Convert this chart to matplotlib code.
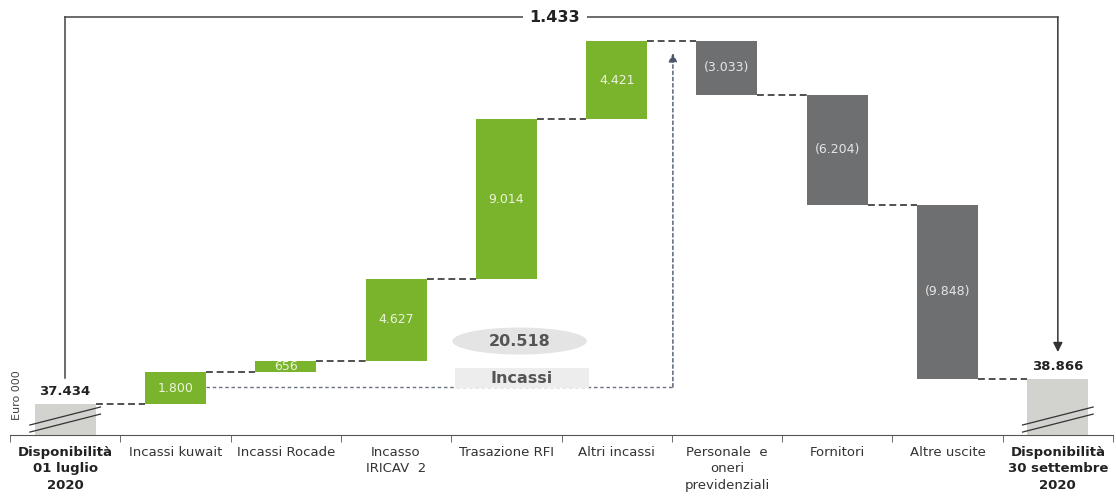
import numpy as np
import matplotlib.pyplot as plt
from matplotlib.patches import Ellipse, Rectangle

# data (Euro 000)
categories = ['Disponibilità\n01 luglio\n2020', 'Incassi kuwait', 'Incassi Rocade',
              'Incasso\nIRICAV  2', 'Trasazione RFI', 'Altri incassi',
              'Personale  e\noneri\nprevidenziali', 'Fornitori', 'Altre uscite',
              'Disponibilità\n30 settembre\n2020']
start_value = 37434
end_value = 38866
deltas = [1800, 656, 4627, 9014, 4421, -3033, -6204, -9848]
delta_labels = ['1.800', '656', '4.627', '9.014', '4.421', '(3.033)', '(6.204)', '(9.848)']
start_label = '37.434'
end_label = '38.866'
total_incassi = '20.518'
variation = '1.433'

green = '#7ab42c'
dgray = '#6e6f71'
lgray = '#d2d2cf'

base = 35700
top = 60276
w = 0.553

fig = plt.figure(figsize=(11.16, 4.97), dpi=100)
ax = fig.add_axes([10/1116, 62/497, 1103/1116, 435/497])
ax.set_xlim(-0.5, 9.5)
ax.set_ylim(base, top)

# start / end bars
ax.bar(0, start_value - base, bottom=base, width=w, color=lgray)
ax.bar(9, end_value - base, bottom=base, width=w, color=lgray)

running = start_value
levels = [start_value]
for i, d in enumerate(deltas):
    x = i + 1
    lo = min(running, running + d)
    col = green if d > 0 else dgray
    ax.bar(x, abs(d), bottom=lo, width=w, color=col)
    tcol = '#eef3dc' if d > 0 else '#e6e6e6'
    ax.text(x, lo + abs(d) / 2, delta_labels[i], ha='center', va='center',
            fontsize=9, color=tcol)
    running += d
    levels.append(running)

# connectors
for i in range(9):
    ax.plot([i + w / 2, i + 1 - w / 2], [levels[i], levels[i]], color='#222222',
            lw=1.1, ls=(0, (4.5, 2.5)))

# break marks
for x0 in [0, 9]:
    for off in [0, -400]:
        ax.plot([x0 - 0.32, x0 + 0.32], [36265 + off, 37281 + off], color='#333333', lw=0.9)

# value labels on start/end
ax.text(0, start_value + 350, start_label, ha='center', va='bottom',
        fontsize=9.5, fontweight='bold', color='#222222')
ax.text(9, end_value + 350, end_label, ha='center', va='bottom',
        fontsize=9.5, fontweight='bold', color='#222222')

# top bracket
ytop = 59302
ax.plot([0, 0], [38918, ytop], color='#444444', lw=1.1)
ax.plot([0, 9], [ytop, ytop], color='#444444', lw=1.1)
ax.annotate('', xy=(9, 40387), xytext=(9, ytop),
            arrowprops=dict(arrowstyle='-|>', color='#333333', lw=1.1,
                            mutation_scale=14, shrinkA=0, shrinkB=0))
ax.text(4.44, ytop, variation, ha='center', va='center', fontsize=11.5,
        fontweight='bold', color='#222222',
        bbox=dict(facecolor='white', edgecolor='none', pad=5))

# Incassi dotted arrow
ylow = 38410
ax.plot([1 + w / 2, 5.51], [ylow, ylow], color='#6a7280', lw=1, ls=(0, (2.5, 2)))
ax.annotate('', xy=(5.51, 57270), xytext=(5.51, ylow),
            arrowprops=dict(arrowstyle='-|>', color='#4a5568', lw=1,
                            ls=(0, (2.5, 2)), mutation_scale=13, shrinkA=0, shrinkB=0))
ax.add_patch(Rectangle((3.53, 38354), 1.22, 1129, facecolor='#ededed', edgecolor='none', zorder=3))
ax.text(4.14, 38900, 'Incassi', ha='center', va='center', fontsize=11.5,
        fontweight='bold', color='#555555', zorder=4)
ax.add_patch(Ellipse((4.12, 41008), 1.22, 1525, facecolor='#e4e4e4', edgecolor='none'))
ax.text(4.12, 41008, total_incassi, ha='center', va='center', fontsize=11.5,
        fontweight='bold', color='#555555')

# axis styling
for s in ['top', 'right', 'left']:
    ax.spines[s].set_visible(False)
ax.spines['bottom'].set_color('#555555')
ax.set_yticks([])
ax.set_xticks(range(10))
ax.set_xticklabels(categories, fontsize=9.5, color='#333333', linespacing=1.32)
for i in [0, 9]:
    ax.get_xticklabels()[i].set_fontweight('bold')
    ax.get_xticklabels()[i].set_color('#222222')
ax.tick_params(axis='x', which='major', length=0, pad=8)
ax.set_xticks(np.arange(-0.5, 10, 1), minor=True)
ax.tick_params(axis='x', which='minor', length=5, color='#555555', direction='out')

fig.text(17/1116, 1 - 395/497, 'Euro 000', rotation=90, ha='center', va='center',
         fontsize=8, color='#444444')

fig.savefig('out.png', dpi=100)
